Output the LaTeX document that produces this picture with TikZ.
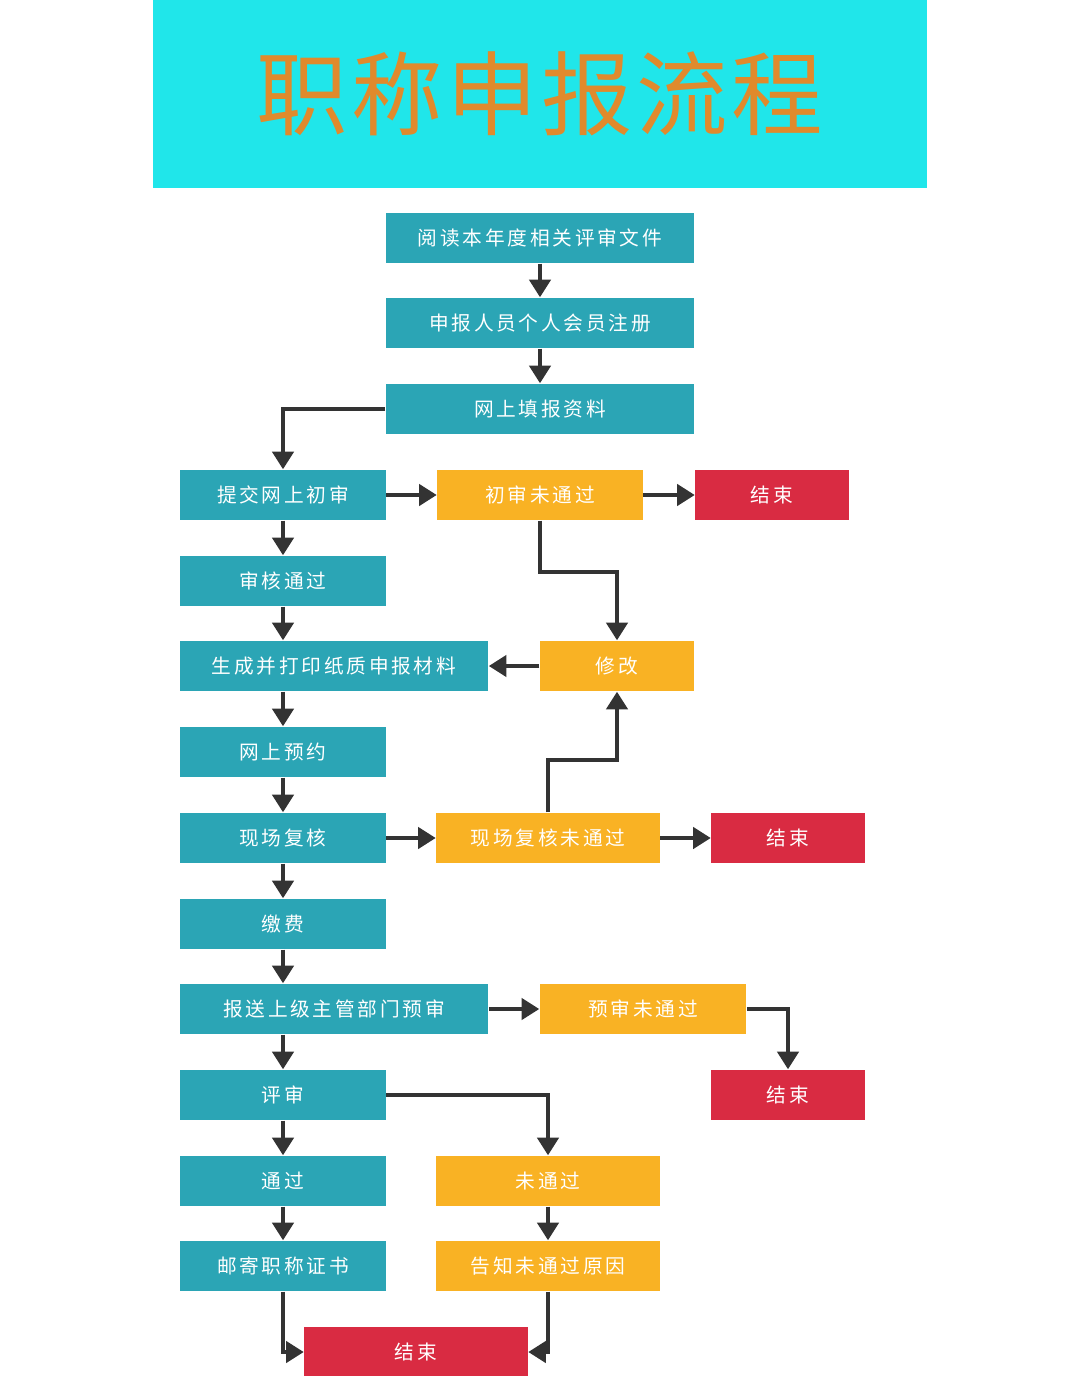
\documentclass[tikz,border=0pt]{standalone}
\usepackage{fontspec}
\setmainfont{Noto Sans CJK SC}
\usetikzlibrary{arrows.meta}
\definecolor{teal1}{HTML}{2BA5B5}
\definecolor{gold1}{HTML}{F9B224}
\definecolor{red1}{HTML}{D92B42}
\definecolor{cyan1}{HTML}{20E6EA}
\definecolor{title1}{HTML}{E08A2C}
\tikzset{
  box/.style={minimum height=0.5cm, inner sep=0pt, text=white, font=\fontsize{5.6}{6}\selectfont\addfontfeature{LetterSpace=14}},
  bluebox/.style={box, fill=teal1},
  goldbox/.style={box, fill=gold1},
  redbox/.style={box, fill=red1},
  flow/.style={draw=black!80, line width=1.1pt, -{Triangle[length=5pt,width=6pt]}}
}
\begin{document}
\begin{tikzpicture}[x=0.01cm,y=-0.01cm]
\useasboundingbox (0,0) rectangle (1080,1376);
\fill[cyan1] (153,0) rectangle (927,188);
\node (title) at (540,94) [text=title1, font=\fontsize{26}{28}\selectfont\addfontfeature{LetterSpace=4}] {职称申报流程};
% main column
\node (read) at (540,238) [bluebox, minimum width=3.08cm] {阅读本年度相关评审文件};
\node (reg) at (540,323) [bluebox, minimum width=3.08cm] {申报人员个人会员注册};
\node (fill) at (540,409) [bluebox, minimum width=3.08cm] {网上填报资料};
\node (submit) at (283,495) [bluebox, minimum width=2.05cm] {提交网上初审};
\node (pass1) at (283,581) [bluebox, minimum width=2.05cm] {审核通过};
\node (print) at (334,666) [bluebox, minimum width=3.08cm] {生成并打印纸质申报材料};
\node (book) at (283,752) [bluebox, minimum width=2.05cm] {网上预约};
\node (check) at (283,838) [bluebox, minimum width=2.05cm] {现场复核};
\node (pay) at (283,924) [bluebox, minimum width=2.05cm] {缴费};
\node (send) at (334,1009) [bluebox, minimum width=3.08cm] {报送上级主管部门预审};
\node (review) at (283,1095) [bluebox, minimum width=2.05cm] {评审};
\node (pass2) at (283,1181) [bluebox, minimum width=2.05cm] {通过};
\node (mail) at (283,1266) [bluebox, minimum width=2.05cm] {邮寄职称证书};
% side branches
\node (fail1) at (540,495) [goldbox, minimum width=2.05cm] {初审未通过};
\node (end1) at (772,495) [redbox, minimum width=1.53cm] {结束};
\node (edit) at (617,666) [goldbox, minimum width=1.54cm] {修改};
\node (fail2) at (548,838) [goldbox, minimum width=2.23cm] {现场复核未通过};
\node (end2) at (788,838) [redbox, minimum width=1.53cm] {结束};
\node (fail3) at (643,1009) [goldbox, minimum width=2.06cm] {预审未通过};
\node (end3) at (788,1095) [redbox, minimum width=1.53cm] {结束};
\node (fail4) at (548,1181) [goldbox, minimum width=2.23cm] {未通过};
\node (reason) at (548,1266) [goldbox, minimum width=2.23cm] {告知未通过原因};
\node (end4) at (416,1352) [redbox, minimum width=2.23cm] {结束};
% arrows
\draw[flow] (read) -- (reg);
\draw[flow] (reg) -- (fill);
\draw[flow] (fill.west) -| (submit.north);
\draw[flow] (submit) -- (fail1);
\draw[flow] (fail1) -- (end1);
\draw[flow] (submit) -- (pass1);
\draw[flow] (pass1) -- (print.north -| pass1);
\draw[flow] (fail1.south) -- (540,572) -| (edit.north);
\draw[flow] (edit) -- (print);
\draw[flow] (print.south -| book) -- (book);
\draw[flow] (book) -- (check);
\draw[flow] (check) -- (fail2);
\draw[flow] (fail2) -- (end2);
\draw[flow] (fail2.north) -- (548,760) -| (edit.south);
\draw[flow] (check) -- (pay);
\draw[flow] (pay) -- (send.north -| pay);
\draw[flow] (send) -- (fail3);
\draw[flow] (fail3.east) -| (end3.north);
\draw[flow] (send.south -| review) -- (review);
\draw[flow] (review.east) -| (fail4.north);
\draw[flow] (review) -- (pass2);
\draw[flow] (pass2) -- (mail);
\draw[flow] (fail4) -- (reason);
\draw[flow] (mail.south) |- (end4.west);
\draw[flow] (reason.south) |- (end4.east);
\end{tikzpicture}
\end{document}
